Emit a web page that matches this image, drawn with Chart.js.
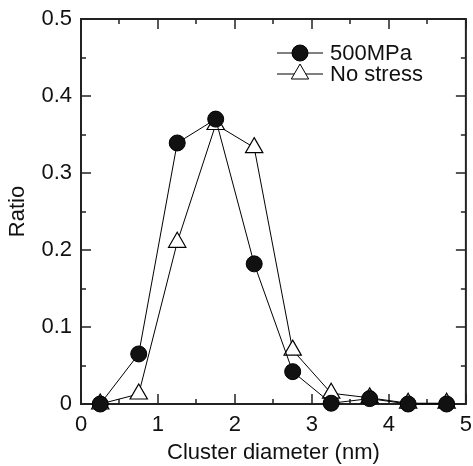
<!DOCTYPE html>
<html>
<head>
<meta charset="utf-8">
<script src="https://cdn.jsdelivr.net/npm/chart.js@4.4.0/dist/chart.umd.min.js"></script>
<style>
  html, body { margin: 0; padding: 0; background: #fff; overflow: hidden; }
  #wrap { width: 480px; height: 466px; }
  canvas { display: block; }
</style>
</head>
<body>
<div id="wrap"><canvas id="grafik"></canvas></div>
<script>
// ======================
// DATA
// ======================

const diameter = [0.25, 0.75, 1.25, 1.75, 2.25, 2.75, 3.25, 3.75, 4.25, 4.75];

const ratio500 = [0, 0.065, 0.339, 0.370, 0.182, 0.042, 0.001, 0.007, 0, 0];
const ratioNoStress = [0, 0.013, 0.210, 0.363, 0.333, 0.070, 0.014, 0.008, 0.001, 0.001];

const seriesNames = ["500MPa", "No stress"];

const xTicks = [0, 1, 2, 3, 4, 5];
const yTicks = [0, 0.1, 0.2, 0.3, 0.4, 0.5];

const FONT = "Liberation Sans, Arial, sans-serif";
const FS = 22;

function toPoints(ys) {
    return diameter.map((x, i) => ({ x: x, y: ys[i] }));
}

// ======================
// FRAME + TICKS (inward)
// ======================

const frame = {
    id: "frame",
    beforeDatasetsDraw(chart) {
        const { ctx, chartArea: a } = chart;
        const xs = chart.scales.x, ys = chart.scales.y;
        ctx.save();
        ctx.strokeStyle = "#222";
        ctx.lineWidth = 2;
        ctx.strokeRect(a.left, a.top, a.right - a.left, a.bottom - a.top);
        ctx.lineWidth = 1.5;
        ctx.beginPath();
        for (let v = 0; v <= 5.001; v += 0.5) {
            const px = Math.round(xs.getPixelForValue(v));
            const len = Math.abs(v - Math.round(v)) < 0.01 ? 10 : 5;
            ctx.moveTo(px, a.bottom); ctx.lineTo(px, a.bottom - len);
            ctx.moveTo(px, a.top); ctx.lineTo(px, a.top + len);
        }
        for (let v = 0; v <= 0.5001; v += 0.05) {
            const py = Math.round(ys.getPixelForValue(v));
            const major = Math.abs(v * 10 - Math.round(v * 10)) < 0.01;
            const len = major ? 10 : 5;
            ctx.moveTo(a.left, py); ctx.lineTo(a.left + len, py);
            ctx.moveTo(a.right, py); ctx.lineTo(a.right - len, py);
        }
        ctx.stroke();
        ctx.restore();
    },
    afterDraw(chart) {
        // legend inside plot, top right
        const ctx = chart.ctx;
        ctx.save();
        const rows = [53, 74];
        chart.data.datasets.forEach((ds, i) => {
            const y = rows[i];
            ctx.strokeStyle = "#000";
            ctx.lineWidth = 1;
            ctx.beginPath();
            ctx.moveTo(277, y); ctx.lineTo(323, y);
            ctx.stroke();
            ctx.fillStyle = ds.pointBackgroundColor;
            ctx.beginPath();
            if (ds.pointStyle === "triangle") {
                const r = ds.pointRadius;
                ctx.moveTo(300, y - r);
                ctx.lineTo(300 + r * 0.866, y + r * 0.5);
                ctx.lineTo(300 - r * 0.866, y + r * 0.5);
                ctx.closePath();
            } else {
                ctx.arc(300, y, ds.pointRadius, 0, Math.PI * 2);
            }
            ctx.fill();
            ctx.stroke();
            ctx.fillStyle = "#111";
            ctx.font = FS + "px " + FONT;
            ctx.textBaseline = "middle";
            ctx.fillText(ds.label, 330, y + 1);
        });
        ctx.restore();
    }
};

// ======================
// GRAFIK
// ======================

new Chart(document.getElementById("grafik"), {
    type: "scatter",
    data: {
        datasets: [
            {
                label: seriesNames[0],
                data: toPoints(ratio500),
                showLine: true,
                borderColor: "#000",
                borderWidth: 1,
                pointStyle: "circle",
                pointRadius: 8,
                pointBackgroundColor: "#111",
                pointBorderColor: "#000",
                pointBorderWidth: 1,
                clip: false,
                order: 1
            },
            {
                label: seriesNames[1],
                data: toPoints(ratioNoStress),
                showLine: true,
                borderColor: "#000",
                borderWidth: 1,
                pointStyle: "triangle",
                pointRadius: 10,
                pointBackgroundColor: "#fff",
                pointBorderColor: "#000",
                pointBorderWidth: 1.2,
                clip: false,
                order: 2
            }
        ]
    },
    options: {
        responsive: true,
        maintainAspectRatio: false,
        animation: false,
        events: [],
        layout: { padding: { left: 0, right: 0, top: 19, bottom: 0 } },
        plugins: { legend: { display: false }, tooltip: { enabled: false } },
        scales: {
            x: {
                type: "linear",
                min: 0,
                max: 5,
                afterBuildTicks: s => { s.ticks = xTicks.map(v => ({ value: v })); },
                afterFit: s => { s.height = 62; },
                grid: { display: false, drawTicks: false },
                border: { display: false },
                ticks: {
                    padding: 8,
                    color: "#111",
                    font: { family: FONT, size: FS },
                    callback: v => String(v)
                },
                title: {
                    display: true,
                    text: "Cluster diameter (nm)",
                    color: "#111",
                    font: { family: FONT, size: FS },
                    padding: { top: 0, bottom: 0 }
                }
            },
            y: {
                min: 0,
                max: 0.5,
                afterBuildTicks: s => { s.ticks = yTicks.map(v => ({ value: v })); },
                afterFit: s => { s.width = 81; s.paddingTop = 0; s.paddingBottom = 0; },
                grid: { display: false, drawTicks: false },
                border: { display: false },
                ticks: {
                    padding: 9,
                    color: "#111",
                    font: { family: FONT, size: FS },
                    callback: v => (v === 0 ? "0" : v.toFixed(1))
                },
                title: {
                    display: true,
                    text: "Ratio",
                    color: "#111",
                    font: { family: FONT, size: FS },
                    padding: { top: 5, bottom: 0 }
                }
            }
        }
    },
    plugins: [frame]
});
</script>
</body>
</html>
